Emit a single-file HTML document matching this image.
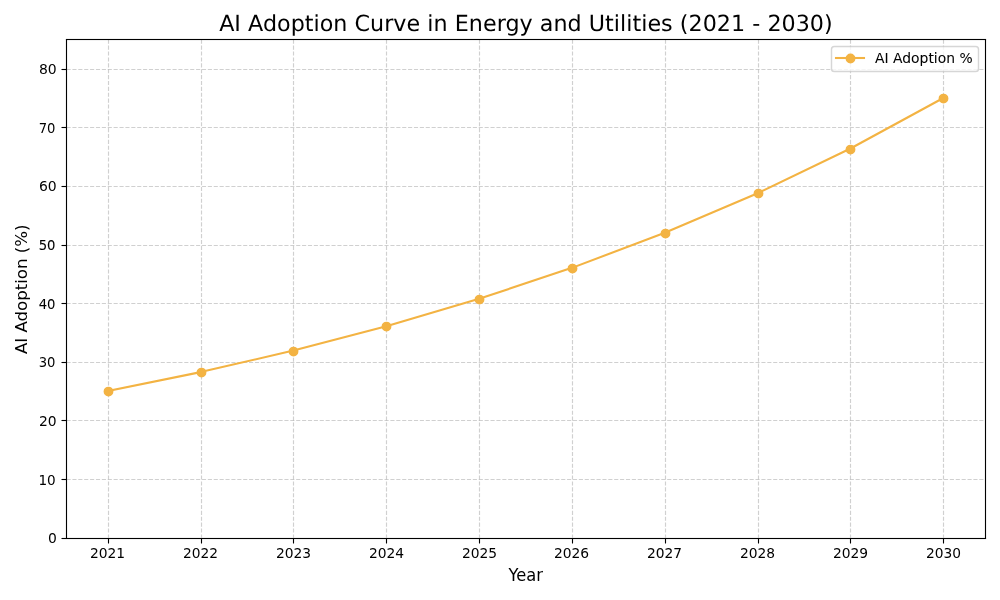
<!DOCTYPE html>
<html lang="en">
<head>
<meta charset="utf-8">
<title>AI Adoption Curve in Energy and Utilities (2021 - 2030)</title>
<style>
html,body{margin:0;padding:0;background:#ffffff;}
body{width:1000px;height:600px;overflow:hidden;font-family:"DejaVu Sans","Liberation Sans",sans-serif;}
svg{display:block;}
</style>
</head>
<body>
<svg width="1000" height="600" viewBox="0 0 1000 600">
<rect x="0" y="0" width="1000" height="600" fill="#ffffff"/>
<defs><clipPath id="axclip"><rect x="65.9" y="39.33" width="919.1" height="498.39"/></clipPath></defs>
<g clip-path="url(#axclip)" fill="none" stroke="#b0b0b0" stroke-opacity="0.6" stroke-width="1.150" stroke-dasharray="4.111 1.778">
<path d="M 108.5 538.5 L 108.5 39.5"/>
<path d="M 201.5 538.5 L 201.5 39.5"/>
<path d="M 293.5 538.5 L 293.5 39.5"/>
<path d="M 386.5 538.5 L 386.5 39.5"/>
<path d="M 479.5 538.5 L 479.5 39.5"/>
<path d="M 572.5 538.5 L 572.5 39.5"/>
<path d="M 665.5 538.5 L 665.5 39.5"/>
<path d="M 758.5 538.5 L 758.5 39.5"/>
<path d="M 850.5 538.5 L 850.5 39.5"/>
<path d="M 943.5 538.5 L 943.5 39.5"/>
<path d="M 66.5 538.5 L 985.5 538.5"/>
<path d="M 66.5 479.5 L 985.5 479.5"/>
<path d="M 66.5 420.5 L 985.5 420.5"/>
<path d="M 66.5 362.5 L 985.5 362.5"/>
<path d="M 66.5 303.5 L 985.5 303.5"/>
<path d="M 66.5 245.5 L 985.5 245.5"/>
<path d="M 66.5 186.5 L 985.5 186.5"/>
<path d="M 66.5 127.5 L 985.5 127.5"/>
<path d="M 66.5 69.5 L 985.5 69.5"/>
</g>
<g fill="none" stroke="#000000" stroke-width="1.111">
<path d="M 108.5 538.5 L 108.5 543.5"/>
<path d="M 201.5 538.5 L 201.5 543.5"/>
<path d="M 293.5 538.5 L 293.5 543.5"/>
<path d="M 386.5 538.5 L 386.5 543.5"/>
<path d="M 479.5 538.5 L 479.5 543.5"/>
<path d="M 572.5 538.5 L 572.5 543.5"/>
<path d="M 665.5 538.5 L 665.5 543.5"/>
<path d="M 758.5 538.5 L 758.5 543.5"/>
<path d="M 850.5 538.5 L 850.5 543.5"/>
<path d="M 943.5 538.5 L 943.5 543.5"/>
<path d="M 66.5 538.5 L 61.5 538.5"/>
<path d="M 66.5 479.5 L 61.5 479.5"/>
<path d="M 66.5 420.5 L 61.5 420.5"/>
<path d="M 66.5 362.5 L 61.5 362.5"/>
<path d="M 66.5 303.5 L 61.5 303.5"/>
<path d="M 66.5 245.5 L 61.5 245.5"/>
<path d="M 66.5 186.5 L 61.5 186.5"/>
<path d="M 66.5 127.5 L 61.5 127.5"/>
<path d="M 66.5 69.5 L 61.5 69.5"/>
</g>
<g clip-path="url(#axclip)">
<path d="M 107.780 391.137 L 200.618 372.106 L 293.456 350.604 L 386.294 326.310 L 479.132 298.862 L 571.970 267.851 L 664.809 232.813 L 757.647 193.227 L 850.485 148.500 L 943.323 97.967" fill="none" stroke="#f3b343" stroke-width="2.083" stroke-linecap="square" stroke-linejoin="round"/>
<circle cx="108.5" cy="391.6" r="4.200" fill="#f3b343" stroke="#f3b343" stroke-width="1.450"/>
<circle cx="201.5" cy="372.6" r="4.200" fill="#f3b343" stroke="#f3b343" stroke-width="1.450"/>
<circle cx="293.5" cy="351.6" r="4.200" fill="#f3b343" stroke="#f3b343" stroke-width="1.450"/>
<circle cx="386.5" cy="326.6" r="4.200" fill="#f3b343" stroke="#f3b343" stroke-width="1.450"/>
<circle cx="479.5" cy="299.6" r="4.200" fill="#f3b343" stroke="#f3b343" stroke-width="1.450"/>
<circle cx="572.5" cy="268.6" r="4.200" fill="#f3b343" stroke="#f3b343" stroke-width="1.450"/>
<circle cx="665.5" cy="233.6" r="4.200" fill="#f3b343" stroke="#f3b343" stroke-width="1.450"/>
<circle cx="758.5" cy="193.6" r="4.200" fill="#f3b343" stroke="#f3b343" stroke-width="1.450"/>
<circle cx="850.5" cy="149.6" r="4.200" fill="#f3b343" stroke="#f3b343" stroke-width="1.450"/>
<circle cx="943.5" cy="98.6" r="4.200" fill="#f3b343" stroke="#f3b343" stroke-width="1.450"/>
</g>
<g fill="none" stroke="#000000" stroke-width="1.111" stroke-linecap="square">
<path d="M 66.5 538.5 L 66.5 39.5"/><path d="M 985.5 538.5 L 985.5 39.5"/>
</g>
<g fill="#000000" stroke="none">
<rect x="65.945" y="537.944" width="920.111" height="1.111"/>
<rect x="65.945" y="38.944" width="920.111" height="1.111"/>
</g>
<rect x="831.500" y="46.500" width="147.000" height="25.000" rx="2.778" ry="2.778" fill="#ffffff" stroke="#cccccc" stroke-width="1.450" opacity="0.8"/>
<path d="M 836.000 58.000 L 864.000 58.000" fill="none" stroke="#f3b343" stroke-width="2.083" stroke-linecap="square"/>
<circle cx="850.500" cy="58.500" r="4.200" fill="#f3b343" stroke="#f3b343" stroke-width="1.450"/>
<g font-family="'DejaVu Sans', 'Liberation Sans', sans-serif" fill="#000000">
<text x="107.50" y="557.50" font-size="13.839" text-anchor="middle" text-rendering="auto" letter-spacing="-0.050">2021</text>
<text x="200.50" y="557.50" font-size="13.789" text-anchor="middle" text-rendering="auto" letter-spacing="0.050">2022</text>
<text x="293.50" y="557.50" font-size="13.839" text-anchor="middle" text-rendering="auto" letter-spacing="-0.050">2023</text>
<text x="386.50" y="557.50" font-size="13.839" text-anchor="middle" text-rendering="auto" letter-spacing="-0.050">2024</text>
<text x="479.50" y="557.50" font-size="13.839" text-anchor="middle" text-rendering="auto" letter-spacing="-0.050">2025</text>
<text x="571.50" y="557.50" font-size="13.839" text-anchor="middle" text-rendering="auto" letter-spacing="-0.050">2026</text>
<text x="664.50" y="557.50" font-size="13.789" text-anchor="middle" stroke="#000000" stroke-width="0.050" text-rendering="auto" letter-spacing="0.050">2027</text>
<text x="757.50" y="557.50" font-size="13.839" text-anchor="middle" text-rendering="auto" letter-spacing="-0.050">2028</text>
<text x="850.50" y="557.50" font-size="13.839" text-anchor="middle" text-rendering="auto" letter-spacing="-0.050">2029</text>
<text x="943.50" y="557.50" font-size="13.789" text-anchor="middle" text-rendering="auto" letter-spacing="-0.050">2030</text>
<text x="56.95" y="542.55" font-size="13.889" text-anchor="end" text-rendering="auto">0</text>
<text x="55.70" y="484.55" font-size="13.589" text-anchor="end" text-rendering="auto">10</text>
<text x="56.70" y="425.55" font-size="13.889" text-anchor="end" text-rendering="auto">20</text>
<text x="55.45" y="366.55" font-size="13.189" text-anchor="end" text-rendering="auto">30</text>
<text x="55.45" y="308.55" font-size="13.189" text-anchor="end" stroke="#000000" stroke-width="0.050" text-rendering="auto">40</text>
<text x="55.45" y="249.55" font-size="13.189" text-anchor="end" stroke="#000000" stroke-width="0.100" text-rendering="auto">50</text>
<text x="56.70" y="190.55" font-size="13.989" text-anchor="end" text-rendering="auto">60</text>
<text x="55.45" y="132.55" font-size="13.189" text-anchor="end" text-rendering="auto">70</text>
<text x="56.70" y="73.55" font-size="13.989" text-anchor="end" text-rendering="auto">80</text>
<text x="525.70" y="580.60" font-size="17.000" text-anchor="middle" transform="translate(525.70 580.60) scale(0.9600 1) translate(-525.70 -580.60)" text-rendering="auto" letter-spacing="-0.100">Year</text>
<text x="26.50" y="289.25" font-size="16.667" text-anchor="middle" transform="rotate(-90 26.50 289.25)" text-rendering="auto" letter-spacing="-0.030">AI Adoption (%)</text>
<text x="525.95" y="30.50" font-size="22.222" text-anchor="middle" text-rendering="geometricPrecision" letter-spacing="0.030">AI Adoption Curve in Energy and Utilities (2021 - 2030)</text>
<text x="874.90" y="62.65" font-size="13.889" text-anchor="start" stroke="#000000" stroke-width="0.050" text-rendering="auto" letter-spacing="0.020">AI Adoption %</text>
</g>
</svg>
</body>
</html>
